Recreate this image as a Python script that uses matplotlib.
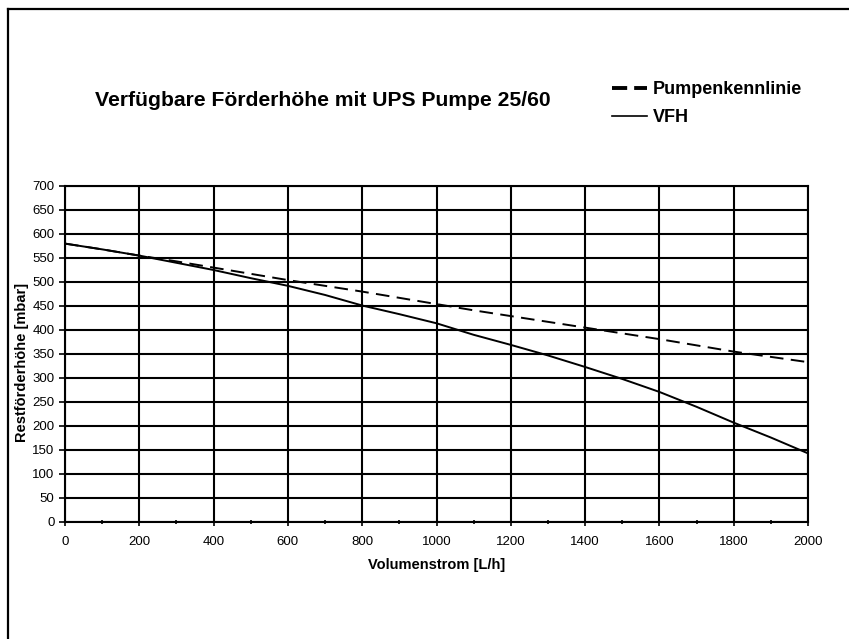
import numpy as np
import matplotlib
matplotlib.use("Agg")
import matplotlib.pyplot as plt
from matplotlib.lines import Line2D

plt.rcParams['font.family'] = ['Liberation Sans', 'DejaVu Sans']

volumenstrom = [0, 100, 200, 300, 400, 500, 600, 700, 800, 900, 1000,
                1100, 1200, 1300, 1400, 1500, 1600, 1700, 1800, 1900, 2000]
pumpenkennlinie = [580, 568, 555, 543, 530, 517, 504, 492, 480, 467, 454,
                   441, 429, 417, 405, 393, 381, 368, 355, 344, 333]
vfh = [580, 568, 555, 540, 525, 508, 492, 473, 451, 433, 414,
       390, 369, 347, 323, 298, 271, 240, 207, 176, 143]

title = "Verfügbare Förderhöhe mit UPS Pumpe 25/60"
xlabel = "Volumenstrom [L/h]"
ylabel = "Restförderhöhe [mbar]"

W, H = 849, 639
fig = plt.figure(figsize=(W / 100, H / 100), dpi=100)

# plot area in pixels: left 65, right 808, top 186, bottom 522
ax = fig.add_axes([65 / W, 1 - 522 / H, (808 - 65) / W, (522 - 186) / H])

ax.plot(volumenstrom, pumpenkennlinie, color='black', lw=1.4,
        dashes=(7, 3.8), label='Pumpenkennlinie')
ax.plot(volumenstrom, vfh, color='black', lw=1.4, label='VFH')

ax.set_xlim(0, 2000)
ax.set_ylim(0, 700)
ax.set_xticks(np.arange(0, 2001, 200))
ax.set_xticks(np.arange(0, 2001, 100), minor=True)
ax.set_yticks(np.arange(0, 701, 50))
ax.grid(True, which='major', color='black', lw=1.5)
ax.tick_params(axis='both', which='major', labelsize=9.5, length=4, width=1.2,
               direction='out', color='black')
ax.tick_params(axis='x', which='minor', length=3, width=1.2, direction='inout')
ax.tick_params(axis='x', which='major', direction='inout', length=6, pad=7)
for s in ax.spines.values():
    s.set_linewidth(1.5)
ax.set_axisbelow(True)

ax.set_xlabel(xlabel, fontsize=10.5, fontweight='bold', labelpad=7)
ax.set_ylabel(ylabel, fontsize=10.5, fontweight='bold')
ax.yaxis.set_label_coords(29 / W, 1 - 362 / H, transform=fig.transFigure)

fig.text(323 / W, 1 - 100 / H, title, fontsize=15.2, fontweight='bold',
         ha='center', va='center')

handles = [Line2D([], [], color='black', lw=2.8, dashes=(3.9, 1.8)),
           Line2D([], [], color='black', lw=1.2)]
leg = fig.legend(handles, ['Pumpenkennlinie', 'VFH'], loc='upper left',
                 bbox_to_anchor=(612 / W, 1 - 81 / H), frameon=False,
                 prop={'size': 13, 'weight': 'bold'}, handlelength=1.95,
                 handletextpad=0.3, labelspacing=0.62, borderaxespad=0,
                 borderpad=0)

# outer frame (cut off at right and bottom)
fx0 = 7.5 / W
fy0 = 1 - 9 / H
fig.add_artist(Line2D([fx0, fx0], [-0.05, fy0], transform=fig.transFigure,
                      color='black', lw=1.6))
fig.add_artist(Line2D([fx0, 1.05], [fy0, fy0], transform=fig.transFigure,
                      color='black', lw=1.6))

fig.savefig('out.png', dpi=100)
